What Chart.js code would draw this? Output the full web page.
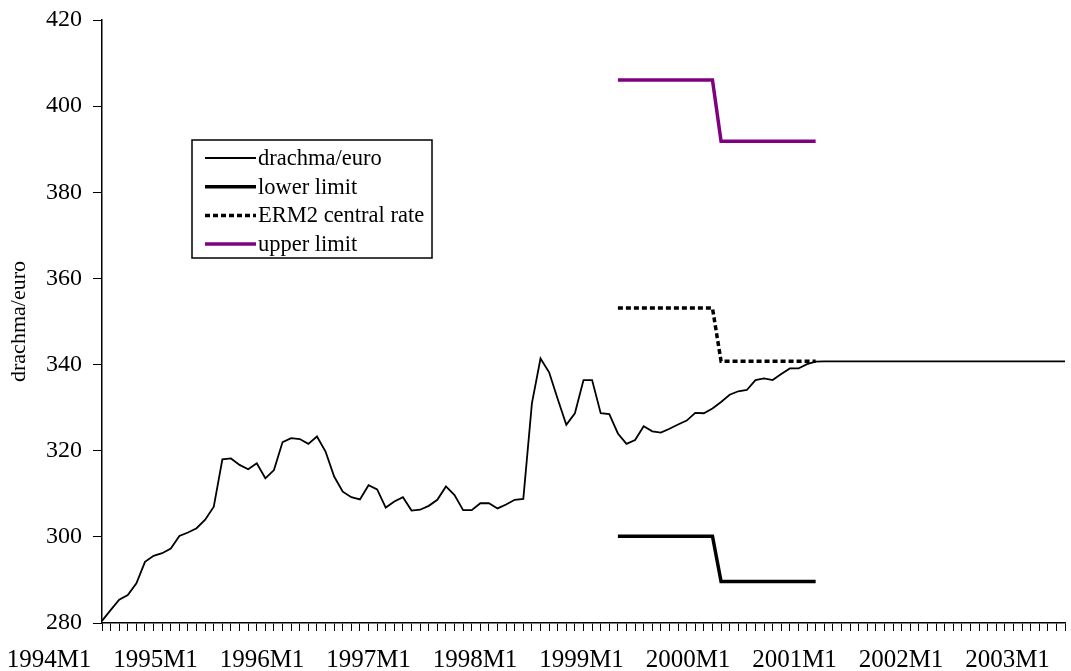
<!DOCTYPE html>
<html>
<head>
<meta charset="utf-8">
<script src="https://cdn.jsdelivr.net/npm/chart.js@4.4.1/dist/chart.umd.min.js"></script>
<style>
  html, body { margin: 0; padding: 0; background: #fff; }
  #wrap { width: 1071px; height: 671px; }
</style>
</head>
<body>
<div id="wrap"><canvas id="rateChart" width="1071" height="671"></canvas></div>
<script>
// monthly categories 1994M1 .. 2003M5
const months = [];
for (let i = 0; i < 113; i++) months.push((1994 + Math.floor(i / 12)) + 'M' + (i % 12 + 1));

const yearLabels = ['1994M1', '1995M1', '1996M1', '1997M1', '1998M1', '1999M1', '2000M1', '2001M1', '2002M1', '2003M1'];

const drachmaEuro = [
  280.5, 283.0, 285.4, 286.5, 289.2, 294.2, 295.6, 296.2, 297.3, 300.2, 301.0, 302.0,
  304.0, 307.0, 318.0, 318.2, 316.7, 315.7, 317.1, 313.6, 315.5, 322.0, 322.9, 322.7,
  321.6, 323.3, 319.8, 314.0, 310.5, 309.2, 308.7, 312.0, 311.0, 306.8, 308.2, 309.2,
  306.1, 306.3, 307.2, 308.6, 311.7, 309.7, 306.2, 306.2, 307.8, 307.8, 306.6, 307.5,
  308.6, 308.8, 331.0, 341.4, 338.2, 332.0, 326.0, 328.7, 336.4, 336.4, 328.7, 328.5,
  324.0, 321.6, 322.5, 325.7, 324.5, 324.2, 325.1, 326.1, 327.0, 328.8, 328.7, 329.8,
  331.3, 333.0, 333.8, 334.1, 336.4, 336.8, 336.4, 337.8, 339.1, 339.1, 340.1, 340.7,
  340.75, 340.75, 340.75, 340.75, 340.75, 340.75, 340.75, 340.75, 340.75, 340.75, 340.75, 340.75,
  340.75, 340.75, 340.75, 340.75, 340.75, 340.75, 340.75, 340.75, 340.75, 340.75, 340.75, 340.75,
  340.75, 340.75, 340.75, 340.75, 340.75
];

const ermMonths = [
  '1999M1', '1999M2', '1999M3', '1999M4', '1999M5', '1999M6', '1999M7', '1999M8', '1999M9', '1999M10', '1999M11', '1999M12',
  '2000M1', '2000M2', '2000M3', '2000M4', '2000M5', '2000M6', '2000M7', '2000M8', '2000M9', '2000M10', '2000M11', '2000M12'
];
const lowerLimit = [
  300.14, 300.14, 300.14, 300.14, 300.14, 300.14, 300.14, 300.14, 300.14, 300.14, 300.14, 300.14,
  289.64, 289.64, 289.64, 289.64, 289.64, 289.64, 289.64, 289.64, 289.64, 289.64, 289.64, 289.64
];
const centralRate = [
  353.11, 353.11, 353.11, 353.11, 353.11, 353.11, 353.11, 353.11, 353.11, 353.11, 353.11, 353.11,
  340.75, 340.75, 340.75, 340.75, 340.75, 340.75, 340.75, 340.75, 340.75, 340.75, 340.75, 340.75
];
const upperLimit = [
  406.08, 406.08, 406.08, 406.08, 406.08, 406.08, 406.08, 406.08, 406.08, 406.08, 406.08, 406.08,
  391.86, 391.86, 391.86, 391.86, 391.86, 391.86, 391.86, 391.86, 391.86, 391.86, 391.86, 391.86
];

const serif = '"Liberation Serif", "Times New Roman", serif';
const erm = vals => vals.map((v, k) => ({ x: ermMonths[k], y: v }));

// legend drawn inside the plot, like the original
const legendBox = {
  id: 'legendBox',
  afterDraw(chart) {
    const c = chart.ctx, a = chart.chartArea;
    const x = a.left + 90, y = a.top + 120;
    c.save();
    c.strokeStyle = '#000';
    c.lineWidth = 1.5;
    c.strokeRect(x, y, 240, 118);
    c.font = '22.5px ' + serif;
    c.textBaseline = 'middle';
    c.fillStyle = '#000';
    chart.data.datasets.forEach((ds, k) => {
      const ly = y + 18 + k * 28.7;
      c.beginPath();
      c.setLineDash(ds.borderDash || []);
      c.lineWidth = ds.borderWidth;
      c.strokeStyle = ds.borderColor;
      c.moveTo(x + 13, ly);
      c.lineTo(x + 64, ly);
      c.stroke();
      c.setLineDash([]);
      c.fillText(ds.label, x + 66, ly + 1);
    });
    c.restore();
  }
};

const ctx = document.getElementById('rateChart');

new Chart(ctx, {
  type: 'line',
  data: {
    labels: months,
    datasets: [{
      label: 'drachma/euro',
      data: drachmaEuro,
      borderColor: '#000',
      borderWidth: 1.8
    },
    {
      label: 'lower limit',
      data: erm(lowerLimit),
      borderColor: '#000',
      borderWidth: 3.5
    },
    {
      label: 'ERM2 central rate',
      data: erm(centralRate),
      borderColor: '#000',
      borderWidth: 3.5,
      borderDash: [5, 3]
    },
    {
      label: 'upper limit',
      data: erm(upperLimit),
      borderColor: '#800080',
      borderWidth: 3.5
    }]
  },
  options: {
    responsive: false,
    animation: false,
    elements: { point: { radius: 0 }, line: { tension: 0 } },
    layout: { padding: { top: 20, right: 6, bottom: 0, left: 0 } },
    plugins: { legend: { display: false }, tooltip: { enabled: false } },
    scales: {
      x: {
        type: 'category',
        position: 'bottom',
        weight: 0,
        grid: { drawOnChartArea: false, tickLength: 8, color: '#000' },
        border: { color: '#000', width: 1.5 },
        ticks: { display: false, autoSkip: false },
        afterFit: s => { s.height = 8; s.paddingLeft = 0; s.paddingRight = 0; }
      },
      x2: {
        type: 'linear',
        position: 'bottom',
        weight: 1,
        min: 0.4977,
        max: 9.54,
        grid: { display: false, drawTicks: false },
        border: { display: false },
        ticks: {
          autoSkip: false, maxRotation: 0, minRotation: 0, padding: 14,
          color: '#000', font: { family: serif, size: 25 },
          callback: v => yearLabels[v]
        },
        afterBuildTicks: s => { s.ticks = yearLabels.map((_, k) => ({ value: k })); },
        afterFit: s => { s.height = 40; s.paddingLeft = 0; s.paddingRight = 0; }
      },
      y: {
        min: 280,
        max: 420,
        ticks: { stepSize: 20, padding: 11, color: '#000', font: { family: serif, size: 24 } },
        grid: { drawOnChartArea: false, tickLength: 9, color: '#000' },
        border: { color: '#000', width: 1.5 },
        title: { display: true, text: 'drachma/euro', color: '#000', font: { family: serif, size: 22 }, padding: { top: 6, bottom: 0 } },
        afterFit: s => { s.width = 102; s.paddingTop = 0; s.paddingBottom = 0; }
      }
    }
  },
  plugins: [legendBox]
});
</script>
</body>
</html>
